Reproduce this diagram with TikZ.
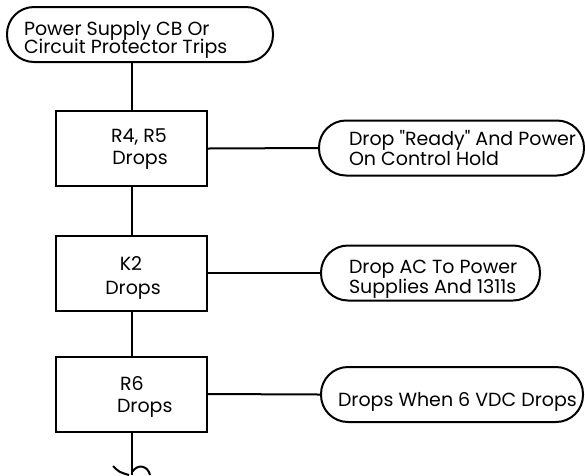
\documentclass[tikz,border=0pt]{standalone}
\usepackage{fontspec}
\setmainfont{Poppins}[Ligatures=TeXOff]
\begin{document}
\begin{tikzpicture}[x=1pt,y=-1pt,line width=2pt,
  term/.style={draw, rectangle, rounded corners=27pt, inner sep=0pt, minimum height=55pt},
  boxnode/.style={draw, rectangle, inner sep=0pt, minimum width=151pt, minimum height=75pt},
  txt/.style={inner sep=0pt, font=\fontsize{19}{20}\selectfont},
  conn/.style={line width=2pt}]
\useasboundingbox (0,0) rectangle (585,475);
% shapes
\node[term, minimum width=266pt] (t0) at (140,34.5) {};
\node[boxnode] (b1) at (131.5,148.5) {};
\node[boxnode] (b2) at (131.5,273) {};
\node[boxnode] (b3) at (131.5,394) {};
\node[term, minimum width=265pt] (t1) at (451.5,148) {};
\node[term, minimum width=219pt] (t2) at (430.5,273) {};
\node[term, minimum width=262pt] (t3) at (452,394.5) {};
% texts
\node[txt, anchor=base west] (t0a) at (23,35) {Power Supply CB Or};
\node[txt, anchor=base west] (t0b) at (23,53) {Circuit Protector Trips};
\node[txt, anchor=base] (b1a) at (139,142) {R4, R5};
\node[txt, anchor=base] (b1b) at (140,164) {Drops};
\node[txt, anchor=base west] (t1a) at (348,145) {Drop "Ready" And Power};
\node[txt, anchor=base west] (t1b) at (348,165) {On Control Hold};
\node[txt, anchor=base] (b2a) at (131,270) {K2};
\node[txt, anchor=base] (b2b) at (133,294) {Drops};
\node[txt, anchor=base west] (t2a) at (348,273) {Drop AC To Power};
\node[txt, anchor=base west] (t2b) at (348,293) {Supplies And 1311s};
\node[txt, anchor=base west] (b3a) at (119,390) {R6};
\node[txt, anchor=base west] (b3b) at (116,412) {Drops};
\node[txt, anchor=base west] (t3a) at (337,406) {Drops When 6 VDC Drops};
% connectors
\draw[conn] (b1.north) -- (b1.north |- t0.south);
\draw[conn] (b1.south) -- (b2.north);
\draw[conn] (b2.south) -- (b3.north);
\draw[conn] (b1.east) -- (t1.west);
\draw[conn] (b2.east) -- (t2.west);
\draw[conn] (b3.east) -- (t3.west);
\coordinate (bend) at (131.5,475);
\draw[conn] (b3.south) -- (bend);
\coordinate (ca) at (113,466);
\coordinate (cb) at (129,475);
\coordinate (cc) at (132,472);
\coordinate (cd) at (150,475);
\draw[conn] (ca) .. controls (119,472) .. (cb);
\draw[conn] (cc) .. controls (138,463) and (148,466) .. (cd);
\end{tikzpicture}
\end{document}
